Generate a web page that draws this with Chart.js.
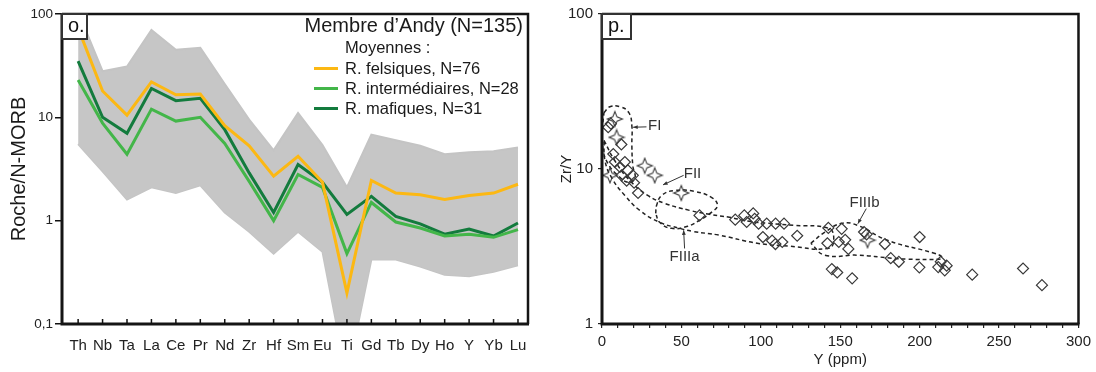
<!DOCTYPE html>
<html>
<head>
<meta charset="utf-8">
<script src="https://cdn.jsdelivr.net/npm/chart.js@4.4.1/dist/chart.umd.min.js"></script>
<style>
  html, body { margin: 0; padding: 0; background: #fff; }
  #wrap { position: relative; width: 1096px; height: 372px; }
  canvas { position: absolute; top: 0; }
</style>
</head>
<body>
<div id="wrap">
  <canvas id="chart-o" width="548" height="372" style="left:0"></canvas>
  <canvas id="chart-p" width="548" height="372" style="left:548px"></canvas>
</div>
<script>
// ---- panel o : spider diagram (Roche / N-MORB) ----
const elements = ["Th", "Nb", "Ta", "La", "Ce", "Pr", "Nd", "Zr", "Hf", "Sm", "Eu", "Ti", "Gd", "Tb", "Dy", "Ho", "Y", "Yb", "Lu"];
const felsic = [73, 18, 10.5, 22, 16.5, 16.8, 8.3, 5.3, 2.7, 4.2, 2.35, 0.2, 2.45, 1.85, 1.78, 1.6, 1.75, 1.85, 2.25];
const intermediate = [23, 8.8, 4.4, 12, 9.2, 10, 5.6, 2.4, 1.0, 2.8, 2.1, 0.48, 1.5, 0.97, 0.85, 0.71, 0.74, 0.69, 0.82];
const mafic = [35, 10, 7.0, 19, 14.5, 15.3, 7.6, 2.9, 1.2, 3.5, 2.35, 1.15, 1.72, 1.1, 0.93, 0.74, 0.83, 0.71, 0.95];
// envelope of the 135 individual samples (grey field)
const samplesMax = [105, 28, 31, 70, 45, 47, 21, 9.5, 4.8, 11, 5.4, 2.1, 6.8, 6.0, 5.3, 4.4, 4.6, 4.7, 5.1];
const samplesMin = [5.5, 3.0, 1.6, 2.1, 1.85, 2.2, 1.2, 0.78, 0.48, 0.78, 0.5, 0.03, 0.42, 0.42, 0.36, 0.30, 0.29, 0.32, 0.37];
const yTicksO = [0.1, 1, 10, 100];
const yLabelsO = ["0,1", "1", "10", "100"];

// ---- panel p : Zr/Y vs Y ----
const diamondY = [3.9, 5.6, 12.2, 7.1, 8.1, 14.4, 11.3, 16.3, 12.3, 19.4, 15.5, 20.2, 22.7, 61.4, 83.9, 89.6, 95.2, 91.1, 96.1, 98.6, 103.7, 109.3, 114.6, 101.3, 107.1, 109.2, 113.5, 122.9, 142.5, 150.9, 141.9, 149.1, 153.1, 155.1, 144.7, 148.1, 157.5, 165.0, 166.6, 178.1, 200.0, 181.8, 186.9, 199.8, 213.3, 217.0, 211.7, 215.8, 233.1, 265.1, 277.0];
const diamondZrY = [18.6, 19.6, 14.4, 12.5, 11.1, 11.1, 10.3, 9.8, 9.1, 9.1, 8.4, 8.15, 7.0, 5.02, 4.71, 5.02, 5.17, 4.55, 4.77, 4.44, 4.44, 4.44, 4.44, 3.64, 3.45, 3.28, 3.38, 3.71, 4.17, 4.11, 3.32, 3.38, 3.49, 3.05, 2.26, 2.15, 1.97, 3.92, 3.79, 3.28, 3.64, 2.66, 2.52, 2.32, 2.52, 2.38, 2.33, 2.22, 2.08, 2.28, 1.78];
const starY = [8.1, 9.2, 5.0, 26.9, 33.2, 49.9, 167.2];
const starZrY = [21.0, 16.0, 9.1, 10.5, 9.1, 7.0, 3.47];
// dashed fields, [Y, Zr/Y]
const fieldFI = [[1.25, 23.1], [5.0, 25.2], [11.3, 25.2], [16.9, 23.1], [18.8, 19.0], [18.8, 14.2], [19.4, 10.5], [20.7, 8.7], [16.3, 8.2], [10.0, 9.1], [3.8, 10.8], [0.6, 13.5], [0.3, 18.2], [1.25, 23.1]];
const fieldFII = [[33.8, 5.17], [34.4, 5.83], [37.6, 6.75], [45.7, 7.27], [58.2, 7.17], [68.9, 6.56], [72.7, 5.83], [68.9, 5.25], [61.4, 4.67], [53.9, 4.27], [43.8, 4.14], [36.3, 4.53], [33.8, 5.17]];
const fieldFIIIa = [[1.25, 15.3], [8.1, 11.3], [17.5, 8.43], [28.8, 6.75], [39.5, 6.0], [55.1, 5.41], [67.6, 5.10], [80.2, 4.88], [92.7, 4.60], [105.2, 4.46], [120.9, 4.33], [142.8, 4.14], [145.9, 3.56], [142.8, 3.08], [117.7, 3.18], [97.7, 3.32], [73.9, 3.74], [57.0, 3.96], [48.9, 4.14], [36.3, 4.53], [23.8, 5.41], [14.4, 6.75], [6.3, 8.7], [1.9, 11.3], [1.25, 15.3]];
const fieldFIIIb = [[131.5, 3.32], [140.3, 3.91], [150.9, 4.46], [160.9, 4.33], [179.7, 3.47], [209.2, 2.86], [214.2, 2.70], [212.3, 2.62], [192.3, 2.62], [182.2, 2.66], [160.9, 2.78], [140.3, 2.78], [131.5, 3.32]];
const fieldLabels = [
  { text: "FI", at: [33.2, 19.0], from: [28.0, 18.7], to: [19.6, 18.6] },
  { text: "FII", at: [57.0, 9.36], from: [51.4, 9.1], to: [38.4, 7.9] },
  { text: "FIIIa", at: [52.0, 2.70], from: [52.0, 3.07], to: [51.4, 4.02] },
  { text: "FIIIb", at: [165.3, 6.09], from: [166.4, 5.55], to: [161.1, 4.44] },
];
const xMajorP = [0, 50, 100, 150, 200, 250, 300];
const yTicksP = [1, 10, 100];

Chart.defaults.font.family = "'Liberation Sans', Arial, Helvetica, sans-serif";
Chart.defaults.color = "#222";

const pts = (arr) => arr.map((v, i) => ({ x: i, y: v }));
const pairs = (arr) => arr.map((p) => ({ x: p[0], y: p[1] }));

// frame around the plot area, drawn on top of the data
const frame = {
  id: "frame",
  afterDraw(chart) {
    const { ctx, chartArea: a } = chart;
    ctx.save();
    ctx.strokeStyle = "#151515";
    ctx.lineWidth = 2.5;
    ctx.beginPath();
    ctx.moveTo(a.left, a.top);
    ctx.lineTo(a.right, a.top);
    ctx.lineTo(a.right, a.bottom);
    ctx.stroke();
    ctx.lineWidth = 3;
    ctx.beginPath();
    ctx.moveTo(a.left, a.top - 1);
    ctx.lineTo(a.left, a.bottom);
    ctx.lineTo(a.right + 1, a.bottom);
    ctx.stroke();
    ctx.restore();
  },
};

function panelTag(ctx, a, text, w) {
  ctx.save();
  ctx.fillStyle = "#fff";
  ctx.fillRect(a.left, a.top, w, 25);
  ctx.strokeStyle = "#333";
  ctx.lineWidth = 2;
  ctx.strokeRect(a.left, a.top, w, 25);
  ctx.fillStyle = "#111";
  ctx.font = "20px 'Liberation Sans', Arial, sans-serif";
  ctx.textBaseline = "alphabetic";
  ctx.fillText(text, a.left + 6, a.top + 18);
  ctx.restore();
}

// upward ticks on the element axis + legend block
const decorO = {
  id: "decorO",
  afterDraw(chart) {
    const { ctx, chartArea: a } = chart;
    const s = chart.scales.x;
    ctx.save();
    ctx.strokeStyle = "#111";
    ctx.lineWidth = 1.5;
    ctx.beginPath();
    s.ticks.forEach((t, i) => {
      const x = s.getPixelForTick(i);
      ctx.moveTo(x, a.bottom);
      ctx.lineTo(x, a.bottom - 5);
    });
    ctx.stroke();

    ctx.fillStyle = "#1a1a1a";
    ctx.textAlign = "right";
    ctx.font = "20px 'Liberation Sans', Arial, sans-serif";
    ctx.fillText("Membre d\u2019Andy (N=135)", a.right - 5, a.top + 18);
    ctx.textAlign = "left";
    ctx.font = "16.5px 'Liberation Sans', Arial, sans-serif";
    const tx = a.right - 183;
    ctx.fillText("Moyennes :", tx, a.top + 39);
    const items = [
      ["R. felsiques, N=76", "#fcb813"],
      ["R. interm\u00e9diaires, N=28", "#43b649"],
      ["R. mafiques, N=31", "#137b3d"],
    ];
    items.forEach(([label, color], k) => {
      const yy = a.top + 54.5 + k * 20;
      ctx.strokeStyle = color;
      ctx.lineWidth = 3;
      ctx.beginPath();
      ctx.moveTo(a.right - 214, yy);
      ctx.lineTo(a.right - 190, yy);
      ctx.stroke();
      ctx.fillText(label, tx, yy + 5);
    });
    ctx.restore();
    panelTag(ctx, a, "o.", 25);
  },
};

new Chart(document.getElementById("chart-o"), {
  type: "line",
  data: {
    datasets: [
      { data: pts(felsic), borderColor: "#fcb813", borderWidth: 3, pointRadius: 0, order: 1 },
      { data: pts(intermediate), borderColor: "#43b649", borderWidth: 3, pointRadius: 0, order: 2 },
      { data: pts(mafic), borderColor: "#137b3d", borderWidth: 3, pointRadius: 0, order: 3 },
      { data: pts(samplesMax), borderColor: "#c4c4c4", borderWidth: 2, pointRadius: 0, backgroundColor: "#c6c6c6", fill: "+1", order: 8 },
      { data: pts(samplesMin), borderColor: "#c4c4c4", borderWidth: 2, pointRadius: 0, fill: false, order: 9 },
    ],
  },
  options: {
    responsive: false,
    animation: false,
    layout: { padding: { top: 14, right: 20, left: 0, bottom: 0 } },
    plugins: { legend: { display: false }, tooltip: { enabled: false } },
    scales: {
      x: {
        type: "linear",
        min: -0.66,
        max: 18.41,
        afterBuildTicks: (s) => { s.ticks = elements.map((e, i) => ({ value: i })); },
        afterFit: (s) => { s.height = 48; },
        ticks: { callback: (v) => elements[v], autoSkip: false, maxRotation: 0, padding: 4.5, font: { size: 15 }, color: "#222" },
        grid: { display: false },
        border: { display: false },
      },
      y: {
        type: "logarithmic",
        min: 0.1,
        max: 100,
        afterBuildTicks: (s) => { s.ticks = yTicksO.map((v) => ({ value: v })); },
        afterFit: (s) => { s.width = 62; },
        ticks: { callback: (v) => yLabelsO[yTicksO.indexOf(v)], padding: 2, font: { size: 13.5 }, color: "#222" },
        grid: { drawOnChartArea: false, tickLength: 7, color: "#111", lineWidth: 1.5 },
        border: { display: false },
        title: { display: true, text: "Roche/N-MORB", font: { size: 20 }, padding: { top: 7, bottom: 0 }, color: "#1a1a1a" },
      },
    },
  },
  plugins: [frame, decorO],
});

// ---- panel p ----
function makeStar() {
  const c = document.createElement("canvas");
  c.width = 18;
  c.height = 18;
  const g = c.getContext("2d");
  g.strokeStyle = "#3a3a3a";
  g.lineWidth = 1.1;
  g.beginPath();
  for (let k = 0; k < 8; k++) {
    const r = k % 2 ? 3.0 : 7.5;
    const ang = -Math.PI / 2 + (k * Math.PI) / 4;
    const x = 9 + r * Math.cos(ang);
    const y = 9 + r * Math.sin(ang);
    if (k) g.lineTo(x, y); else g.moveTo(x, y);
  }
  g.closePath();
  g.stroke();
  return c;
}

const decorP = {
  id: "decorP",
  afterDraw(chart) {
    const { ctx, chartArea: a } = chart;
    const sx = chart.scales.x, sy = chart.scales.y;
    const px = (p) => [sx.getPixelForValue(p[0]), sy.getPixelForValue(p[1])];
    ctx.save();
    ctx.fillStyle = "#333";
    ctx.strokeStyle = "#333";
    ctx.lineWidth = 1;
    ctx.font = "15px 'Liberation Sans', Arial, sans-serif";
    ctx.textAlign = "center";
    ctx.textBaseline = "middle";
    fieldLabels.forEach((f) => {
      const [tx, ty] = px(f.at);
      ctx.fillText(f.text, tx, ty);
      const [x0, y0] = px(f.from);
      const [x1, y1] = px(f.to);
      ctx.beginPath();
      ctx.moveTo(x0, y0);
      ctx.lineTo(x1, y1);
      ctx.stroke();
      const ang = Math.atan2(y1 - y0, x1 - x0);
      ctx.beginPath();
      ctx.moveTo(x1, y1);
      ctx.lineTo(x1 - 5 * Math.cos(ang - 0.4), y1 - 5 * Math.sin(ang - 0.4));
      ctx.lineTo(x1 - 5 * Math.cos(ang + 0.4), y1 - 5 * Math.sin(ang + 0.4));
      ctx.closePath();
      ctx.fill();
    });
    ctx.restore();
    panelTag(ctx, a, "p.", 29);
  },
};

const dashed = (arr) => ({
  type: "line",
  data: pairs(arr),
  showLine: true,
  borderColor: "#222",
  borderWidth: 1.5,
  borderDash: [4, 3],
  pointRadius: 0,
  tension: 0.45,
  fill: false,
  order: 5,
});

new Chart(document.getElementById("chart-p"), {
  type: "scatter",
  data: {
    datasets: [
      {
        data: diamondY.map((x, i) => ({ x, y: diamondZrY[i] })),
        pointStyle: "rectRot",
        pointRadius: 5.5,
        borderColor: "#3a3a3a",
        borderWidth: 1.2,
        backgroundColor: "rgba(0,0,0,0)",
        order: 1,
      },
      {
        data: starY.map((x, i) => ({ x, y: starZrY[i] })),
        pointStyle: makeStar(),
        pointRadius: 8,
        order: 1,
      },
      dashed(fieldFI),
      dashed(fieldFII),
      dashed(fieldFIIIa),
      dashed(fieldFIIIb),
    ],
  },
  options: {
    responsive: false,
    animation: false,
    layout: { padding: { top: 13, right: 15, left: 0, bottom: 0 } },
    plugins: { legend: { display: false }, tooltip: { enabled: false } },
    scales: {
      x: {
        type: "linear",
        min: 0,
        max: 300,
        afterBuildTicks: (s) => {
          const t = [];
          for (let v = 0; v <= 300; v += 10) t.push({ value: v });
          s.ticks = t;
        },
        afterFit: (s) => { s.height = 48; },
        ticks: { callback: (v) => (xMajorP.includes(v) ? String(v) : ""), autoSkip: false, maxRotation: 0, padding: 5, font: { size: 15 }, color: "#222" },
        grid: { drawOnChartArea: false, tickLength: 4, color: "#222", lineWidth: 1.2 },
        border: { display: false },
        title: { display: true, text: "Y (ppm)", font: { size: 15 }, padding: { top: 0, bottom: 3 }, color: "#222" },
      },
      y: {
        type: "logarithmic",
        min: 1,
        max: 100,
        afterBuildTicks: (s) => { s.ticks = yTicksP.map((v) => ({ value: v })); },
        afterFit: (s) => { s.width = 54; },
        ticks: { callback: (v) => String(v), padding: 5, font: { size: 15 }, color: "#222" },
        grid: { drawOnChartArea: false, tickLength: 4, color: "#222", lineWidth: 1.2 },
        border: { display: false },
        title: { display: true, text: "Zr/Y", font: { size: 15 }, padding: { top: 10, bottom: 0 }, color: "#222" },
      },
    },
  },
  plugins: [frame, decorP],
});
</script>
</body>
</html>
